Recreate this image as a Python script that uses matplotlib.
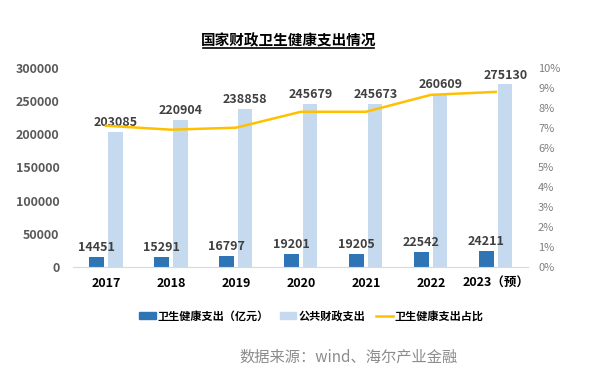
import numpy as np
import matplotlib.pyplot as plt
from matplotlib.lines import Line2D
from matplotlib.patches import Patch

plt.rcParams['font.family'] = ['Noto Sans CJK SC', 'DejaVu Sans']

# 数据
years = ['2017', '2018', '2019', '2020', '2021', '2022', '2023（预）']
health = np.array([14451, 15291, 16797, 19201, 19205, 22542, 24211])
public = np.array([203085, 220904, 238858, 245679, 245673, 260609, 275130])
ratio = np.array([7.1, 6.9, 7.0, 7.8, 7.8, 8.65, 8.8])

c_dark = '#2e75b6'
c_light = '#c5daef'
c_line = '#ffc000'

fig = plt.figure(figsize=(6.15, 3.79), dpi=100)
ax = fig.add_axes([0.1195, 0.2955, 0.7395, 0.5251])
ax2 = ax.twinx()

x = np.arange(len(years))
w = 0.22
ax.bar(x - 0.145, health, w, color=c_dark, zorder=2)
ax.bar(x + 0.145, public, w, color=c_light, zorder=2)

for i in range(len(x)):
    ax.text(x[i] - 0.145, health[i] + 4500, str(health[i]), ha='center', va='bottom',
            fontsize=9, fontweight='bold', color='#404040', zorder=5)
    ax.text(x[i] + 0.145, public[i] + 4500, str(public[i]), ha='center', va='bottom',
            fontsize=9, fontweight='bold', color='#404040', zorder=5)

ax2.plot(x, ratio, color=c_line, lw=1.8)

ax.set_xlim(-0.5, len(years) - 0.5)
ax.set_ylim(0, 300000)
ax.set_yticks(np.arange(0, 300001, 50000))
ax2.set_ylim(0, 10)
ax2.set_yticks(np.arange(0, 11, 1))
ax2.set_yticklabels([f'{v}%' for v in range(11)])

ax.set_xticks(x)
ax.set_xticklabels(years, fontsize=9, fontweight='bold', color='black')
for lab in ax.get_yticklabels():
    lab.set_fontweight('bold')
ax.tick_params(axis='y', length=0, pad=10, labelsize=9, labelcolor='#595959')
ax.tick_params(axis='x', length=0, pad=7)
ax2.tick_params(axis='y', length=0, pad=7, labelsize=8, labelcolor='#7f7f7f')

for a in (ax, ax2):
    for s in ['top', 'left', 'right', 'bottom']:
        a.spines[s].set_visible(False)
ax.spines['bottom'].set_visible(True)
ax.spines['bottom'].set_color('#d9d9d9')

# 标题
fig.text(0.469, 0.893, '国家财政卫生健康支出情况', ha='center', va='center',
         fontsize=10.5, fontweight='bold', color='black')
fig.add_artist(Line2D([0.330, 0.608], [0.873, 0.873], color='black', lw=1.2))

# 图例
handles = [Patch(color=c_dark), Patch(color=c_light), Line2D([], [], color=c_line, lw=1.8)]
labels = ['卫生健康支出（亿元）', '公共财政支出', '卫生健康支出占比']
fig.legend(handles, labels, loc='center', bbox_to_anchor=(0.506, 0.166), ncol=3,
           frameon=False, prop={'weight': 'bold', 'size': 8},
           handlelength=1.5, handleheight=0.5, handletextpad=0.15, columnspacing=1.0)

fig.text(0.567, 0.058, '数据来源：wind、海尔产业金融', ha='center', va='center',
         fontsize=11, color='#8c8c8c')

fig.savefig('out.png', dpi=100)
